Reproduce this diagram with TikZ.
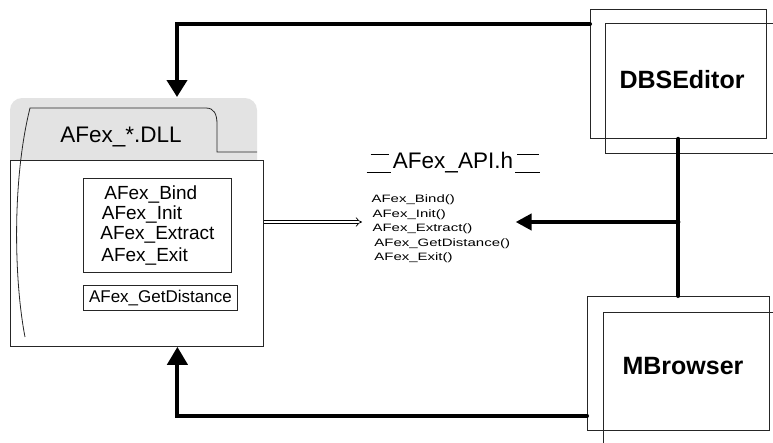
\documentclass[tikz,border=0pt]{standalone}
\usepackage{fontspec}
\setmainfont{Liberation Sans}
\usetikzlibrary{arrows.meta}
\usetikzlibrary{positioning}

\begin{document}
\begin{tikzpicture}[x=1pt, y=-1pt, line width=0.8pt,
        box/.style={draw=black!85, line width=0.8pt, inner sep=0pt},
        link/.style={line width=4pt, line cap=round},
        fsize/.style={font=\fontsize{#1}{#1}\selectfont},
        appname/.style={font=\bfseries\fontsize{25}{30}\selectfont}]

        \useasboundingbox (0,0) rectangle (773,442);
        \clip (0,0) rectangle (773,442);

        % DLL with its tab
        \fill[gray!22] (10,160) [rounded corners=12pt] -- (10,98) -- (257,98) [sharp corners] -- (257,160) -- cycle;
        \node[box, minimum width=253, minimum height=186, anchor=north west] (dll) at (10,160) {};
        \draw[black!85] (25,337) .. controls (14,280) and (12,180) .. (30,108) -- (206,108)
            .. controls (214,108) and (217,114) .. (217,124) -- (217,152) -- (257,152);
        \node[fsize=22.5] (dllname) at (121,137) {AFex\_*.DLL};
        \coordinate (tabtop) at (177,97);

        \node[box, fsize=19, minimum width=148, minimum height=94, align=left, anchor=north west] (funcs) at (83,178)
            {\hspace{4pt}AFex\_Bind\\[1pt]\hspace{1.5pt}AFex\_Init\\[1pt]AFex\_Extract\\[3.5pt]\hspace{1pt}AFex\_Exit};
        \node[box, fsize=17, minimum width=154, minimum height=25, below=12pt of funcs.south west, anchor=north west] (getdist) {AFex\_GetDistance};

        % header file
        \node[fsize=22.5, inner sep=0pt] (apih) at (453,163) {AFex\_API.h};
        \draw ([xshift=-22pt,yshift=9pt]apih.west) -- ++(18,0);
        \draw ([xshift=-26pt,yshift=-9pt]apih.west) -- ++(24,0);
        \draw ([xshift=4pt,yshift=9pt]apih.east) -- ++(22,0);
        \draw ([xshift=2pt,yshift=-9pt]apih.east) -- ++(25,0);

        \node[fsize=10.7, align=left, inner sep=0pt, anchor=west, xscale=1.4, transform shape] (api) at (371,229)
            {AFex\_Bind()\\[3.8pt]\hspace{0.7pt}AFex\_Init()\\[3.8pt]\hspace{0.7pt}AFex\_Extract()\\[3.8pt]\hspace{2pt}AFex\_GetDistance()\\[3.8pt]\hspace{2pt}AFex\_Exit()};

        % applications
        \node[box, minimum width=176, minimum height=129, anchor=north west] (dbsout) at (590,9) {};
        \draw[black!85] (605,23) rectangle (800,153);
        \node[appname] (dbs) at (682,80) {DBSEditor};

        \node[box, minimum width=182, minimum height=134, anchor=north west] (mbrout) at (587,296) {};
        \draw[black!85] (603,312) rectangle (800,470);
        \node[appname] (mbr) at (683,366) {MBrowser};

        % connectors
        \coordinate (junc) at (dbsout.south |- 0,222);
        \draw[link, -{Triangle[length=17pt,width=20pt]}] ([yshift=-15pt]dbsout.north west) -| (tabtop);
        \draw[link, -{Triangle[length=18pt,width=20pt]}] ([yshift=15pt]mbrout.south west) -| ([xshift=40.5pt]dll.south);
        \draw[link] (dbsout.south) -- (mbrout.north);
        \draw[link, -{Triangle[length=16pt,width=16pt]}] (junc) -- ([xshift=5pt]api.east |- junc);
        \draw[double, double distance=2.5pt, line width=0.7pt, -{Implies}] (dll.east |- 0,222) -- ([xshift=-9pt]api.west |- 0,222);

\end{tikzpicture}
\end{document}
